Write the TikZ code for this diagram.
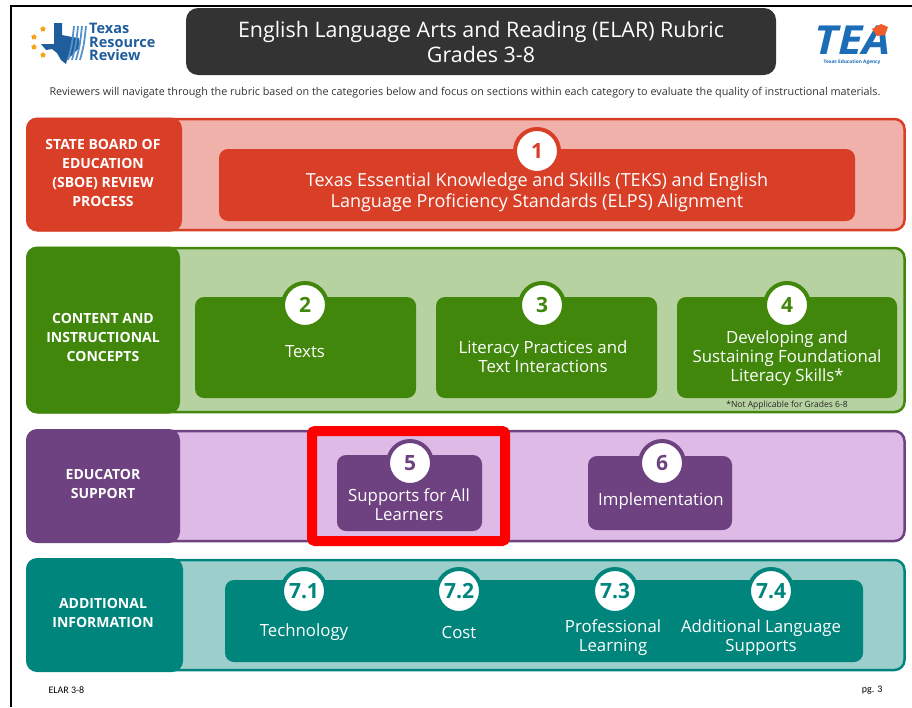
\documentclass[tikz,border=0pt]{standalone}
\usepackage{fontspec}
\setmainfont{Open Sans}
\newfontfamily\footfont{Carlito}
\usetikzlibrary{positioning,shapes.geometric}

\definecolor{sboedark}{HTML}{D93E27}
\definecolor{sboelight}{HTML}{EFB1A9}
\definecolor{contentdark}{HTML}{41870B}
\definecolor{contentlight}{HTML}{B6D2A1}
\definecolor{supportdark}{HTML}{6E4180}
\definecolor{supportlight}{HTML}{DEBAE6}
\definecolor{infodark}{HTML}{00857C}
\definecolor{infolight}{HTML}{9CCFCB}
\definecolor{titlegray}{HTML}{333333}
\definecolor{trrblue}{HTML}{1F5D9C}
\definecolor{teablue}{HTML}{1C6DB8}
\definecolor{starorange}{HTML}{F7A11A}
\definecolor{teaorange}{HTML}{F15A29}

\begin{document}
\begin{tikzpicture}
	[x=1pt,y=-1pt,
	bandbox/.style={draw=#1dark,fill=#1light,line width=2.5pt,rounded corners=10pt,inner sep=0pt},
	sidebox/.style={fill=#1dark,rounded corners=11pt,inner sep=0pt},
	sidetext/.style={text=white,align=center,font=\bfseries\fontsize{14}{19}\selectfont},
	itembox/.style={fill=#1dark,rounded corners=9pt,inner sep=0pt},
	itemtext/.style={text=white,align=center,font=\fontsize{16.8}{19}\selectfont},
	numdisc/.style={circle,fill=white,draw=#1dark,line width=4pt,minimum size=44pt,inner sep=0pt,text=#1dark,font=\bfseries\fontsize{21}{21}\selectfont}]
	\useasboundingbox (0,0) rectangle (912,707);
	\draw[line width=1.5pt] (11,707) -- (11,6) -- (912,6);
	
	% header
	\node[fill=titlegray,rounded corners=12pt,minimum width=590pt,minimum height=67pt,inner sep=0pt,text=white,align=center,font=\fontsize{21.4}{25}\selectfont] (title) at (481,41.5) {English Language Arts and Reading (ELAR) Rubric\\Grades 3-8};
	\node[text=titlegray,font=\fontsize{10.8}{11}\selectfont] (intro) at (465,93) {Reviewers will navigate through the rubric based on the categories below and focus on sections within each category to evaluate the quality of instructional materials.};
	\fill[trrblue] (54,23) -- (62,23) -- (62,35) -- (72,37) -- (79,38) -- (80,47) -- (74,53) -- (67,60) -- (66,64) -- (61,60) -- (57,53) -- (52,49) -- (46,50) -- (41,44) -- (54,44) -- cycle;
	\foreach \k in {0,...,3}
	\draw[teablue!75,line width=1.8pt] (68+\k*4,60) .. controls (72+\k*4,45) .. (74+\k*4,26);
	\foreach \sx/\sy in {43/29,34/37,34/47,43/55}
	\node[star,star points=5,fill=starorange,minimum size=6pt,inner sep=0pt] at (\sx,\sy) {};
	\node[anchor=west,text=trrblue,align=left,inner sep=0pt,font=\bfseries\fontsize{14.5}{13.5}\selectfont] (trr) at (89,42) {Texas\\Resource\\Review};
	\node[text=teablue,inner sep=0pt,xscale=1.12,font=\bfseries\itshape\fontsize{40}{40}\selectfont] (tea) at (853,40) {TEA};
	\fill[teaorange] (872,29) -- (881,24) -- (888,27) -- (885,35) -- (877,36) -- cycle;
	\node[text=teablue,inner sep=0pt,font=\bfseries\fontsize{4.8}{5}\selectfont] (teaname) at (852,62) {Texas Education Agency};
	
	% state board
	\node[bandbox=sboe,minimum width=877pt,minimum height=111pt] (sboe) at (466,174.5) {};
	\node[sidebox=sboe,minimum width=156pt,minimum height=114pt] (sboeside) at (104,174.5) {};
	\node[sidetext] (sboelabel) at (103,173) {STATE BOARD OF\\EDUCATION\\(SBOE) REVIEW\\PROCESS};
	\node[itembox=sboe,minimum width=636pt,minimum height=72pt] (teks) at (537,185) {};
	\node[numdisc=sboe] (n1) at (537,151) {1};
	\node[itemtext,font=\fontsize{18}{21}\selectfont] (tekstext) at (537,192) {Texas Essential Knowledge and Skills (TEKS) and English\\Language Proficiency Standards (ELPS) Alignment};
	
	% content
	\node[bandbox=content,minimum width=877pt,minimum height=164pt] (content) at (466,330) {};
	\node[sidebox=content,minimum width=154pt,minimum height=167pt] (contentside) at (103,330) {};
	\node[sidetext] (contentlabel) at (103,337) {CONTENT AND\\INSTRUCTIONAL\\CONCEPTS};
	\node[itembox=content,minimum width=221pt,minimum height=101pt] (texts) at (305.5,347.5) {};
	\node[itembox=content,minimum width=221pt,minimum height=101pt] (practices) at (546.5,347.5) {};
	\node[itembox=content,minimum width=220pt,minimum height=101pt] (foundational) at (787,347.5) {};
	\node[numdisc=content] (n2) at (305,305) {2};
	\node[numdisc=content] (n3) at (542,305) {3};
	\node[numdisc=content] (n4) at (787,305) {4};
	\node[itemtext] (textslabel) at (305,352) {Texts};
	\node[itemtext] (practiceslabel) at (543,357) {Literacy Practices and\\Text Interactions};
	\node[itemtext] (foundationallabel) at (787,358) {Developing and\\Sustaining Foundational\\Literacy Skills*};
	\node[text=black!85,font=\fontsize{8.5}{8.5}\selectfont] (note) at (787,405) {*Not Applicable for Grades 6-8};
	
	% educator support
	\node[bandbox=support,minimum width=877pt,minimum height=110pt] (support) at (466,486) {};
	\node[sidebox=support,minimum width=154pt,minimum height=114pt] (supportside) at (103,486) {};
	\node[sidetext] (supportlabel) at (103,484) {EDUCATOR\\SUPPORT};
	\node[itembox=support,minimum width=145pt,minimum height=76pt] (learners) at (409.5,493) {};
	\node[itembox=support,minimum width=144pt,minimum height=74pt] (implement) at (660,493) {};
	\node[numdisc=support] (n5) at (410,463) {5};
	\node[numdisc=support] (n6) at (662,463) {6};
	\node[itemtext] (learnerslabel) at (409,505) {Supports for All\\Learners};
	\node[itemtext] (implementlabel) at (661,501) {Implementation};
	\node[draw=red,line width=10pt,minimum width=193pt,minimum height=110pt,rounded corners=3pt] (focus) at (408.5,486) {};
	
	% additional information
	\node[bandbox=info,minimum width=877pt,minimum height=110pt] (info) at (466,615) {};
	\node[sidebox=info,minimum width=157pt,minimum height=114pt] (infoside) at (104.5,615) {};
	\node[sidetext] (infolabel) at (103,613) {ADDITIONAL\\INFORMATION};
	\node[itembox=info,minimum width=638pt,minimum height=82pt] (extras) at (544,621) {};
	\foreach \k/\cx in {1/304,2/459,3/615,4/771}
	\node[numdisc=info] (n7\k) at (\cx,591) {7.\k};
	\node[itemtext] (techlabel) at (304,632) {Technology};
	\node[itemtext] (costlabel) at (459,632) {Cost};
	\node[itemtext] (pdlabel) at (613,638) {Professional\\Learning};
	\node[itemtext] (langlabel) at (761,638) {Additional Language\\Supports};
	
	% footer
	\node[anchor=west,font=\footfont\fontsize{10}{10}\selectfont] (footleft) at (45,690) {ELAR 3-8};
	\node[anchor=east,font=\footfont\fontsize{10}{10}\selectfont] (footright) at (886,690) {pg. 3};
\end{tikzpicture}
\end{document}
